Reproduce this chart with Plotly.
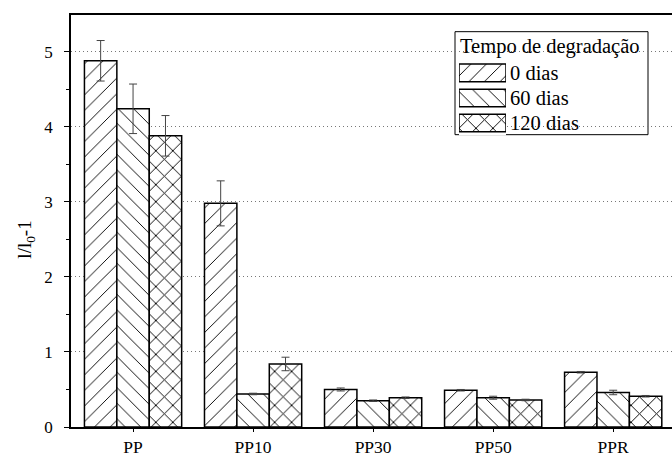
import plotly.graph_objects as go

# Samples and degradation times
samples = ["PP", "PP10", "PP30", "PP50", "PPR"]
series_names = ["0 dias", "60 dias", "120 dias"]
legend_title = "Tempo de degradação"

# l/l0 - 1 (mean) and standard deviation for each degradation time
dias0 = [4.88, 2.98, 0.50, 0.49, 0.73]
dias0_err = [0.27, 0.30, 0.02, 0.01, 0.01]
dias60 = [4.24, 0.44, 0.35, 0.39, 0.46]
dias60_err = [0.33, 0.01, 0.01, 0.02, 0.03]
dias120 = [3.88, 0.84, 0.39, 0.36, 0.41]
dias120_err = [0.27, 0.09, 0.01, 0.01, 0.01]

values = [dias0, dias60, dias120]
errors = [dias0_err, dias60_err, dias120_err]
patterns = ["/", "\\", "x"]
# hatch line density per pattern (plotly scales line width differently per shape)
solidities = [0.085, 0.085, 0.15]
pattern_sizes = [11, 11, 12]

FONT = "Liberation Serif"
W, H = 672, 457
ML, MR, MT, MB = 71, 0, 15, 22
PW, PH = W - ML - MR, H - MT - MB


def px_x(p):
    """Pixel column -> paper x."""
    return (p - ML) / PW


def px_y(p):
    """Pixel row -> paper y."""
    return (H - MB - p) / PH


def bar_marker(shape, solidity, size):
    return dict(
        color="white",
        line=dict(color="black", width=1.5),
        pattern=dict(shape=shape, fgcolor="black", bgcolor="white",
                     fgopacity=1, size=size, solidity=solidity),
    )


fig = go.Figure()
for name, vals, errs, shape, sol, sz in zip(series_names, values, errors,
                                            patterns, solidities, pattern_sizes):
    fig.add_trace(go.Bar(
        x=samples,
        y=vals,
        name=name,
        marker=bar_marker(shape, sol, sz),
        error_y=dict(type="data", array=errs, visible=True,
                     color="#444444", thickness=1, width=4),
        showlegend=False,
    ))

# Legend: framed box with a title, wide hatched swatches and labels
box_l, box_r, box_t, box_b = 455, 648, 32, 137
row_step = 25.5
first_row = 74.0
fig.add_shape(
    type="rect", xref="paper", yref="paper",
    x0=px_x(box_l), x1=px_x(box_r), y0=px_y(box_b), y1=px_y(box_t),
    line=dict(color="black", width=1), fillcolor="white", layer="between",
)
fig.add_annotation(
    text=legend_title, xref="paper", yref="paper",
    x=px_x(458), y=px_y(47), xanchor="left", yanchor="middle",
    showarrow=False, font=dict(family=FONT, size=20.5),
)
for i, (name, shape, sol, sz) in enumerate(zip(series_names, patterns,
                                                solidities, pattern_sizes)):
    fig.add_trace(go.Bar(
        x=[1], y=[i], orientation="h", width=0.7,
        marker=bar_marker(shape, sol, sz), xaxis="x2", yaxis="y2",
        showlegend=False, hoverinfo="skip",
    ))
    fig.add_annotation(
        text=name, xref="paper", yref="paper",
        x=px_x(508), y=px_y(first_row + i * row_step),
        xanchor="left", yanchor="middle",
        showarrow=False, font=dict(family=FONT, size=20.5),
    )

fig.update_layout(
    width=W,
    height=H,
    margin=dict(l=ML, r=MR, t=MT, b=MB),
    paper_bgcolor="white",
    plot_bgcolor="white",
    barmode="group",
    bargap=0.19,
    bargroupgap=0,
    font=dict(family=FONT, size=17, color="black"),
    showlegend=False,
    xaxis=dict(
        range=[-0.517, 4.49],
        showline=True, linecolor="black", linewidth=1.5, mirror=True,
        ticks="outside", ticklen=3, tickcolor="black",
        showgrid=False, zeroline=False,
        tickfont=dict(family=FONT, size=17.5),
    ),
    yaxis=dict(
        range=[0, 5.49],
        tickvals=[0, 1, 2, 3, 4, 5],
        showline=True, linecolor="black", linewidth=1.5,
        ticks="outside", ticklen=5, tickcolor="black", tickwidth=1.2,
        ticklabelstandoff=8,
        minor=dict(ticks="outside", ticklen=3, dtick=0.5,
                   tickcolor="black", showgrid=False),
        showgrid=True, gridcolor="#777777", griddash="1px,3px", gridwidth=1,
        zeroline=False,
        tickfont=dict(family=FONT, size=17),
    ),
    xaxis2=dict(
        domain=[px_x(459), px_x(506)], anchor="y2", range=[0, 1],
        visible=False, fixedrange=True,
    ),
    yaxis2=dict(
        domain=[px_y(first_row + 2 * row_step + row_step / 2),
                px_y(first_row - row_step / 2)],
        anchor="x2", range=[2.5, -0.5], visible=False, fixedrange=True,
    ),
)

# Axis title placed as a rotated annotation
fig.add_annotation(
    text="l/l<sub>0</sub>-1",
    xref="paper", yref="paper",
    x=px_x(26), y=px_y(244),
    xanchor="center", yanchor="middle",
    textangle=-90, showarrow=False,
    font=dict(family=FONT, size=19),
)

fig.write_html("out.html")
